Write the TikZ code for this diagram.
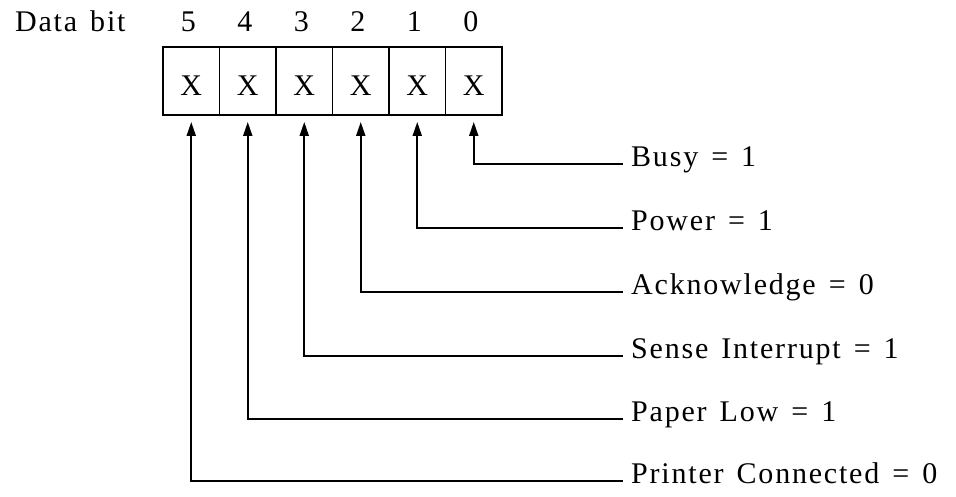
\documentclass[tikz,border=0pt]{standalone}
\usepackage{fontspec}
\setmainfont{Liberation Serif}[LetterSpace=6,WordSpace=1.4]
\usetikzlibrary{arrows.meta}
\begin{document}
\begin{tikzpicture}[x=1pt,y=-1pt,
  every node/.style={font=\fontsize{30pt}{33pt}\selectfont},
  cell/.style={draw, line width=1.9pt, minimum width=56.5pt, minimum height=68pt,
    inner sep=0pt, text height=30pt, text depth=0pt},
  digit/.style={anchor=base, inner sep=0pt},
  lab/.style={anchor=west, inner xsep=8pt, inner ysep=0pt, text height=0.7em, text depth=0.12em},
  conn/.style={line width=1.9pt, -{Triangle[length=14pt,width=9pt]}, shorten >=6pt}
]
\useasboundingbox (0,0) rectangle (956,497);
% register cells
\foreach \b/\i in {5/0,4/1,3/2,2/3,1/4,0/5}{
  \node[cell] (c\b) at ({163+56.5*(\i+0.5)},81) {X};
  \node[digit] (d\b) at ({163+56.5*(\i+0.5)-3},32) {\b};
}
\node[anchor=base west, inner sep=0pt] (title) at (15,32) {Data bit};
% labels
\node[lab] (l0) at (623,164) {Busy = 1};
\node[lab] (l1) at (623,228) {Power = 1};
\node[lab] (l2) at (623,292) {Acknowledge = 0};
\node[lab] (l3) at (623,356) {Sense Interrupt = 1};
\node[lab] (l4) at (623,419) {Paper Low = 1};
\node[lab] (l5) at (623,481) {Printer Connected = 0};
% connectors
\foreach \b in {0,...,5}{
  \draw[conn] (l\b.west) -| (c\b.south);
}
\end{tikzpicture}
\end{document}
